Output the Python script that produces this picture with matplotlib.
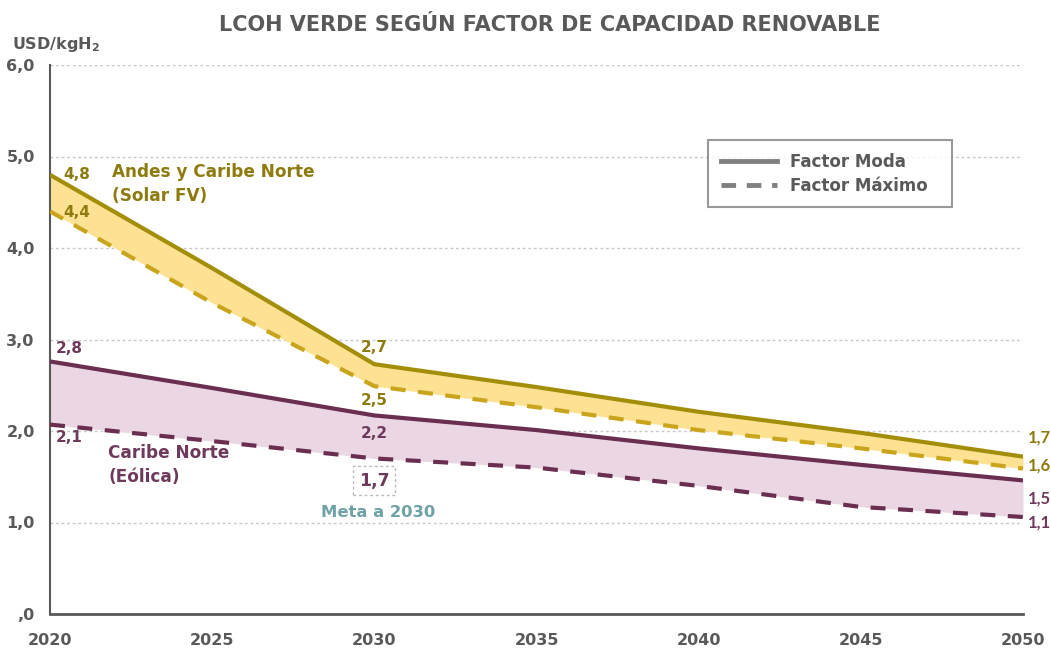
import matplotlib
matplotlib.use("Agg")
import matplotlib.pyplot as plt
from matplotlib.lines import Line2D

years = [2020, 2025, 2030, 2035, 2040, 2045, 2050]
solar_moda = [4.80, 3.78, 2.73, 2.48, 2.21, 1.98, 1.72]
solar_max = [4.40, 3.40, 2.49, 2.26, 2.01, 1.81, 1.59]
eolica_moda = [2.76, 2.47, 2.17, 2.01, 1.81, 1.63, 1.46]
eolica_max = [2.07, 1.89, 1.70, 1.60, 1.40, 1.17, 1.06]
y_ticks = [0, 1, 2, 3, 4, 5, 6]
y_tick_labels = [",0", "1,0", "2,0", "3,0", "4,0", "5,0", "6,0"]
x_ticks = [2020, 2025, 2030, 2035, 2040, 2045, 2050]

plt.rcParams['font.family'] = ['DejaVu Sans']
plt.rcParams['font.weight'] = 'bold'

SOL_LINE = "#A38E0A"
SOL_DASH = "#C9A51E"
SOL_FILL = "#FCE292"
SOL_TXT = "#8E7B0E"
EOL_LINE = "#6A2E50"
EOL_FILL = "#EBD7E4"
EOL_TXT = "#6E3A5C"
GRAY = "#595959"
META = "#6FA2A6"
DASH = (0, (3.6, 3.0))

fig = plt.figure(figsize=(10.51, 6.5), dpi=100)
ax = fig.add_axes([50/1051, 1-614/650, (1023-50)/1051, (614-65)/650])

ax.set_xlim(2020, 2050)
ax.set_ylim(0, 6)

for y in y_ticks[1:]:
    ax.axhline(y, color="#C8C8C8", lw=1, ls=(0, (2, 2)), zorder=0)

ax.fill_between(years, solar_max, solar_moda, color=SOL_FILL, lw=0, zorder=1)
ax.fill_between(years, eolica_max, eolica_moda, color=EOL_FILL, lw=0, zorder=1)

ax.plot(years, solar_moda, color=SOL_LINE, lw=3, zorder=3, solid_capstyle='butt')
ax.plot(years, solar_max, color=SOL_DASH, lw=3, ls=DASH, zorder=3)
ax.plot(years, eolica_moda, color=EOL_LINE, lw=3, zorder=3, solid_capstyle='butt')
ax.plot(years, eolica_max, color=EOL_LINE, lw=3, ls=DASH, zorder=3)

for s in ['top', 'right']:
    ax.spines[s].set_visible(False)
ax.spines['left'].set_color(GRAY)
ax.spines['left'].set_linewidth(1.5)
ax.spines['bottom'].set_color(GRAY)
ax.spines['bottom'].set_linewidth(2)

ax.set_yticks(y_ticks)
ax.set_yticklabels(y_tick_labels)
ax.set_xticks(x_ticks)
ax.set_xticklabels([str(x) for x in x_ticks])
ax.tick_params(axis='both', length=0, colors=GRAY, labelsize=11.5)
ax.tick_params(axis='y', pad=11)
ax.tick_params(axis='x', pad=14)
for lbl in ax.get_xticklabels() + ax.get_yticklabels():
    lbl.set_fontweight('bold')

fig.text(0.523, 0.962, "LCOH VERDE SEGÚN FACTOR DE CAPACIDAD RENOVABLE",
         ha='center', va='center', fontsize=15, color=GRAY, fontweight='bold')
fig.text(12/1051, 1-45/650, "USD/kgH$_\\mathbf{2}$", ha='left', va='center',
         fontsize=11.5, color=GRAY, fontweight='bold')

tk = dict(fontsize=11, fontweight='bold')
ax.annotate("4,8", (years[0], solar_moda[0]), xytext=(9.5, 0), textcoords='offset points', color=SOL_TXT, ha='left', va='center', **tk)
ax.annotate("4,4", (years[0], solar_max[0]), xytext=(9.5, -1), textcoords='offset points', color=SOL_TXT, ha='left', va='center', **tk)
ax.text(2021.9, 4.83, "Andes y Caribe Norte", color=SOL_TXT, ha='left', va='center', fontsize=12.2, fontweight='bold')
ax.text(2021.9, 4.57, "(Solar FV)", color=SOL_TXT, ha='left', va='center', fontsize=12.2, fontweight='bold')

ax.annotate("2,8", (years[0], eolica_moda[0]), xytext=(4, 9.5), textcoords='offset points', color=EOL_TXT, ha='left', va='center', **tk)
ax.annotate("2,1", (years[0], eolica_max[0]), xytext=(4, -9.5), textcoords='offset points', color=EOL_TXT, ha='left', va='center', **tk)
ax.text(2021.8, 1.76, "Caribe Norte", color=EOL_TXT, ha='left', va='center', fontsize=12.2, fontweight='bold')
ax.text(2021.8, 1.50, "(Eólica)", color=EOL_TXT, ha='left', va='center', fontsize=12.2, fontweight='bold')

ax.annotate("2,7", (years[2], solar_moda[2]), xytext=(0, 12), textcoords='offset points', color=SOL_TXT, ha='center', va='center', **tk)
ax.annotate("2,5", (years[2], solar_max[2]), xytext=(0, -10), textcoords='offset points', color=SOL_TXT, ha='center', va='center', **tk)
ax.annotate("2,2", (years[2], eolica_moda[2]), xytext=(0, -13), textcoords='offset points', color=EOL_TXT, ha='center', va='center', **tk)
ax.annotate("1,7", (years[2], eolica_max[2]), xytext=(0, -16), textcoords='offset points', color=EOL_TXT, ha='center', va='center',
            fontsize=12.5, fontweight='bold',
            bbox=dict(boxstyle='square,pad=0.32', fc='white', ec='#BBBBBB', ls=(0, (2, 2)), lw=1))
ax.annotate("Meta a 2030", (years[2], eolica_max[2]), xytext=(3, -39), textcoords='offset points', color=META, ha='center', va='center',
            fontsize=11.8, fontweight='bold')

rk = dict(fontsize=12, fontweight='bold', family=['Lato', 'DejaVu Sans'])
ax.annotate("1,7", (years[-1], solar_moda[-1]), xytext=(3.5, 14), textcoords='offset points', color=SOL_TXT, ha='left', va='center', **rk)
ax.annotate("1,6", (years[-1], solar_max[-1]), xytext=(3.5, 2), textcoords='offset points', color=SOL_TXT, ha='left', va='center', **rk)
ax.annotate("1,5", (years[-1], eolica_moda[-1]), xytext=(3.5, -13), textcoords='offset points', color=EOL_TXT, ha='left', va='center', **rk)
ax.annotate("1,1", (years[-1], eolica_max[-1]), xytext=(3.5, -4), textcoords='offset points', color=EOL_TXT, ha='left', va='center', **rk)

for t in ax.texts:
    t.set_clip_on(False)

handles = [Line2D([], [], color="#808080", lw=3.5),
           Line2D([], [], color="#808080", lw=3.5, ls=(0, (3, 2.2)))]
leg = ax.legend(handles, ["Factor Moda", "Factor Máximo  "], loc='upper left',
                bbox_to_anchor=((708-50)/973, 1-(140-65)/549), frameon=True, fancybox=False,
                edgecolor="#808080", fontsize=12, handlelength=3.4, borderpad=0.75,
                labelspacing=0.38, handletextpad=0.8, borderaxespad=0)
leg.get_frame().set_linewidth(1.5)
for t in leg.get_texts():
    t.set_color(GRAY)
    t.set_fontweight('bold')

fig.savefig("out.png", dpi=100, facecolor='white')
